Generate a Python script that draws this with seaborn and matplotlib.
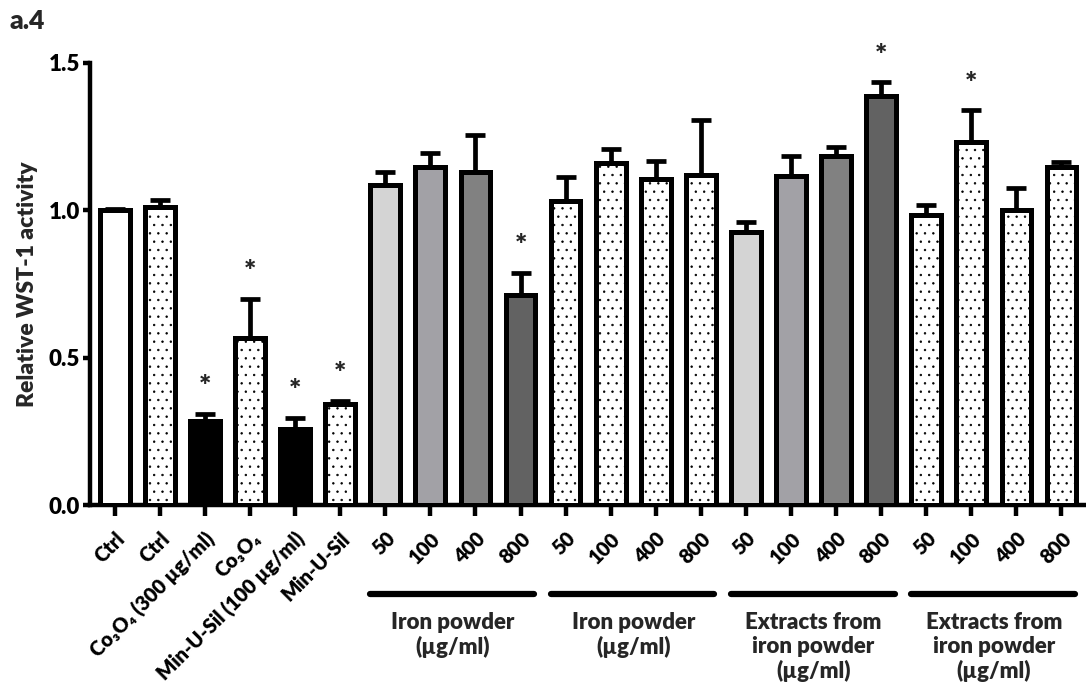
import matplotlib
matplotlib.use("Agg")
import matplotlib.pyplot as plt
import matplotlib.transforms as mtransforms
import seaborn as sns
import pandas as pd

# --- data -------------------------------------------------------------
tick_labels = [
    "Ctrl", "Ctrl", "Co\u2083O\u2084 (300 \u00b5g/ml)", "Co\u2083O\u2084",
    "Min-U-Sil (100 \u00b5g/ml)", "Min-U-Sil",
    "50", "100", "400", "800",
    "50", "100", "400", "800",
    "50", "100", "400", "800",
    "50", "100", "400", "800",
]
means = [1.00, 1.01, 0.285, 0.567, 0.258, 0.343,
         1.085, 1.146, 1.129, 0.711,
         1.030, 1.160, 1.105, 1.119,
         0.925, 1.116, 1.184, 1.388,
         0.983, 1.231, 1.000, 1.146]
sem = [0.005, 0.025, 0.025, 0.133, 0.038, 0.010,
       0.045, 0.050, 0.126, 0.078,
       0.083, 0.047, 0.061, 0.187,
       0.034, 0.068, 0.030, 0.047,
       0.034, 0.109, 0.075, 0.017]
significant = [2, 3, 4, 5, 9, 17, 19]
dotted = [1, 3, 5, 10, 11, 12, 13, 18, 19, 20, 21]
fills = ["#ffffff", "#ffffff", "#000000", "#ffffff", "#000000", "#ffffff",
         "#d4d4d4", "#a2a1a6", "#818181", "#626262",
         "#ffffff", "#ffffff", "#ffffff", "#ffffff",
         "#d4d4d4", "#a2a1a6", "#818181", "#626262",
         "#ffffff", "#ffffff", "#ffffff", "#ffffff"]
group_names = ["Iron powder\n(\u00b5g/ml)", "Iron powder\n(\u00b5g/ml)",
               "Extracts from\niron powder\n(\u00b5g/ml)",
               "Extracts from\niron powder\n(\u00b5g/ml)"]
group_spans = [(6, 9), (10, 13), (14, 17), (18, 21)]

# --- style ------------------------------------------------------------
sns.set_theme(style="ticks")
plt.rcParams["font.family"] = ["Lato", "DejaVu Sans"]
plt.rcParams["font.weight"] = "heavy"
plt.rcParams["hatch.linewidth"] = 0.5
plt.rcParams["hatch.color"] = "black"

ids = [f"g{i}" for i in range(len(means))]
df = pd.DataFrame({"id": ids, "value": means})

fig = plt.figure(figsize=(10.86, 6.90), dpi=100)
ax = fig.add_axes([90 / 1086, 185 / 690, (1084 - 90) / 1086, 442 / 690])

sns.barplot(data=df, x="id", y="value", hue="id", order=ids,
            palette=dict(zip(ids, fills)), legend=False, width=0.66,
            edgecolor="black", linewidth=3.6, saturation=1, errorbar=None,
            ax=ax, zorder=3)

for patch in ax.patches:
    idx = int(round(patch.get_x() + patch.get_width() / 2))
    if idx in dotted:
        patch.set_hatch("..")

ax.errorbar(range(len(means)), means, yerr=[[0] * len(sem), sem],
            fmt="none", ecolor="black", elinewidth=3.4, capsize=7,
            capthick=3.4, zorder=2)

for i in significant:
    ax.text(i, means[i] + sem[i] + 0.09, "*", ha="center", va="center",
            fontsize=21, fontweight="heavy", clip_on=False)

ax.set_xlim(-0.55, 21.5)
ax.set_ylim(0, 1.5)
ax.set_yticks([0.0, 0.5, 1.0, 1.5])
ax.set_yticklabels(["0.0", "0.5", "1.0", "1.5"], fontsize=16, fontweight="heavy")
ax.set_xticks(range(len(means)))
ax.set_xticklabels(tick_labels, rotation=45, ha="right",
                   rotation_mode="anchor", fontsize=14.5, fontweight="heavy")
shift = mtransforms.ScaledTranslation(6 / 100, 0, fig.dpi_scale_trans)
for lab in ax.get_xticklabels():
    lab.set_transform(lab.get_transform() + shift)
ax.set_xlabel("")
ax.set_ylabel("Relative WST-1 activity", fontsize=16.5, fontweight="heavy",
              labelpad=8)
ax.tick_params(axis="y", length=5, width=3.2, pad=2)
ax.tick_params(axis="x", length=8, width=3.2, pad=9)
ax.tick_params(axis="both", color="black", direction="out", labelcolor="black")
for side in ("left", "bottom"):
    ax.spines[side].set_linewidth(3.2)
    ax.spines[side].set_color("black")
sns.despine(ax=ax)

# group brackets below the tick labels
blend = mtransforms.blended_transform_factory(ax.transData, ax.transAxes)
for (a, b), name in zip(group_spans, group_names):
    ax.plot([a - 0.33, b + 0.3], [-0.201, -0.201], color="black", lw=4.5,
            solid_capstyle="round", transform=blend, clip_on=False)
    ax.text((a + b) / 2, -0.243, name, ha="center", va="top", fontsize=16,
            fontweight="heavy", linespacing=1.15, transform=blend)

fig.text(10 / 1086, 1 - 21 / 690, "a.4", fontsize=19, fontweight="heavy",
         va="center", ha="left")

fig.savefig("out.png", dpi=100)
